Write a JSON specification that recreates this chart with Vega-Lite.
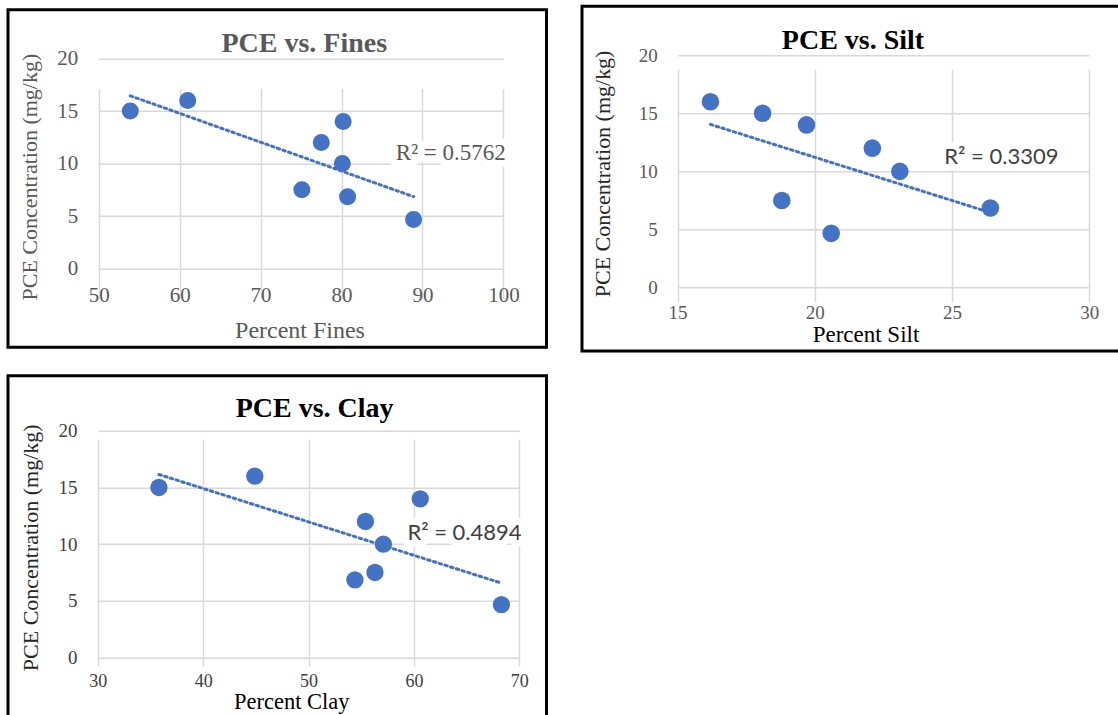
{
  "$schema": "https://vega.github.io/schema/vega-lite/v6.json",
  "background": "white",
  "padding": {"left": 6, "top": 3.8, "right": 0, "bottom": 0},
  "datasets": {
    "soil": [
      {"pce": 16, "fines": 61.0, "silt": 16.2, "clay": 44.9},
      {"pce": 15, "fines": 53.9, "silt": 18.1, "clay": 35.8},
      {"pce": 14, "fines": 80.2, "silt": 19.7, "clay": 60.6},
      {"pce": 12, "fines": 77.5, "silt": 22.1, "clay": 55.4},
      {"pce": 10, "fines": 80.1, "silt": 23.1, "clay": 57.1},
      {"pce": 7.5, "fines": 75.1, "silt": 18.8, "clay": 56.3},
      {"pce": 6.85, "fines": 80.75, "silt": 26.4, "clay": 54.4},
      {"pce": 4.67, "fines": 88.9, "silt": 20.6, "clay": 68.3}
    ],
    "r2fines": [{"x": 93.5, "y": 11.0, "label": "R² = 0.5762"}],
    "r2silt": [{"x": 26.8, "y": 11.25, "label": "R² = 0.3309"}],
    "r2clay": [{"x": 64.8, "y": 11.0, "label": "R² = 0.4894"}]
  },
  "config": {
    "view": {"stroke": null},
    "axis": {
      "domain": false, "ticks": false, "tickSize": 0, "grid": true,
      "gridColor": "#d9d9d9", "gridWidth": 1.5,
      "labelFont": "Liberation Serif", "titleFont": "Liberation Serif",
      "titleFontWeight": "normal", "labelFlush": false, "labelOverlap": false, "labelBound": false,
      "titleBaseline": "middle"
    }
  },
  "spacing": 21,
  "vconcat": [
    {
      "hconcat": [
        {
          "width": 538.5, "height": 337.5,
          "view": {"stroke": "#000000", "strokeWidth": 3},
          "title": {"text": "PCE vs. Fines", "color": "#595959", "font": "Liberation Serif", "fontSize": 28, "fontWeight": "bold", "anchor": "middle", "frame": "group", "dx": 27, "dy": 28, "offset": -34.3, "baseline": "middle"},
          "data": {"name": "soil"},
          "layer": [
            {
              "transform": [{"regression": "pce", "on": "fines"}],
              "mark": {"type": "line", "color": "#4472C4", "strokeDash": [2.5, 3.5], "strokeWidth": 3, "strokeCap": "round"},
              "encoding": {
                "x": {"field": "fines", "type": "quantitative"},
                "y": {"field": "pce", "type": "quantitative"}
              }
            },
            {
              "mark": {"type": "point", "filled": true, "size": 290, "color": "#4472C4", "opacity": 1},
              "encoding": {
                "x": {"field": "fines", "type": "quantitative",
                  "scale": {"domain": [50, 100], "range": [90.7, 495.4], "nice": false, "zero": false},
                  "axis": {"orient": "bottom", "offset": -78.7, "values": [50, 60, 70, 80, 90, 100], "labelFontSize": 21, "labelColor": "#595959", "labelPadding": 16.2,
                    "title": "Percent Fines", "titleFontSize": 24, "titleColor": "#595959", "titleX": 291.5, "titleY": 62.4}},
                "y": {"field": "pce", "type": "quantitative",
                  "scale": {"domain": [0, 20], "range": [258.8, 48.8], "nice": false, "zero": false},
                  "axis": {"orient": "left", "offset": -90.7, "values": [0, 5, 10, 15, 20], "labelFontSize": 21, "labelColor": "#595959", "labelPadding": 21,
                    "title": "PCE Concentration (mg/kg)", "titleFontSize": 22, "titleColor": "#595959", "titleX": -69.6, "titleY": 166.8, "titleAngle": 270}}
              }
            },
            {
              "data": {"name": "r2fines"},
              "mark": {"type": "text", "font": "Liberation Serif", "fontSize": 23, "align": "center", "baseline": "middle", "stroke": "white", "strokeWidth": 14, "strokeJoin": "round", "color": "white"},
              "encoding": {"x": {"field": "x", "type": "quantitative"}, "y": {"field": "y", "type": "quantitative"}, "text": {"field": "label"}}
            },
            {
              "data": {"name": "r2fines"},
              "mark": {"type": "text", "font": "Liberation Serif", "fontSize": 23, "align": "center", "baseline": "middle", "color": "#595959"},
              "encoding": {"x": {"field": "x", "type": "quantitative"}, "y": {"field": "y", "type": "quantitative"}, "text": {"field": "label"}}
            }
          ]
        },
        {
          "width": 545, "height": 344.7,
          "view": {"stroke": "#000000", "strokeWidth": 3},
          "title": {"text": "PCE vs. Silt", "color": "#000000", "font": "Liberation Serif", "fontSize": 28, "fontWeight": "bold", "anchor": "middle", "frame": "group", "dx": -1.5, "dy": 27, "offset": -36.2, "baseline": "middle"},
          "data": {"name": "soil"},
          "layer": [
            {
              "transform": [{"regression": "pce", "on": "silt"}],
              "mark": {"type": "line", "color": "#4472C4", "strokeDash": [2.5, 3.5], "strokeWidth": 3, "strokeCap": "round"},
              "encoding": {
                "x": {"field": "silt", "type": "quantitative"},
                "y": {"field": "pce", "type": "quantitative"}
              }
            },
            {
              "mark": {"type": "point", "filled": true, "size": 310, "color": "#4472C4", "opacity": 1},
              "encoding": {
                "x": {"field": "silt", "type": "quantitative",
                  "scale": {"domain": [15, 30], "range": [95.5, 507.2], "nice": false, "zero": false},
                  "axis": {"orient": "bottom", "offset": -63.3, "values": [15, 20, 25, 30], "labelFontSize": 19, "labelColor": "#595959", "labelPadding": 16.4,
                    "title": "Percent Silt", "titleFontSize": 23, "titleColor": "#000000", "titleX": 283.5, "titleY": 46.5}},
                "y": {"field": "pce", "type": "quantitative",
                  "scale": {"domain": [0, 20], "range": [281.4, 49], "nice": false, "zero": false},
                  "axis": {"orient": "left", "offset": -95.5, "values": [0, 5, 10, 15, 20], "labelFontSize": 19, "labelColor": "#595959", "labelPadding": 20.3,
                    "title": "PCE Concentration (mg/kg)", "titleFontSize": 22, "titleColor": "#262626", "titleX": -74.5, "titleY": 167.2, "titleAngle": 270}}
              }
            },
            {
              "data": {"name": "r2silt"},
              "mark": {"type": "text", "font": "Lato", "fontSize": 22, "align": "center", "baseline": "middle", "stroke": "white", "strokeWidth": 14, "strokeJoin": "round", "color": "white"},
              "encoding": {"x": {"field": "x", "type": "quantitative"}, "y": {"field": "y", "type": "quantitative"}, "text": {"field": "label"}}
            },
            {
              "data": {"name": "r2silt"},
              "mark": {"type": "text", "font": "Lato", "fontSize": 22, "align": "center", "baseline": "middle", "color": "#404040"},
              "encoding": {"x": {"field": "x", "type": "quantitative"}, "y": {"field": "y", "type": "quantitative"}, "text": {"field": "label"}}
            }
          ]
        }
      ],
      "spacing": 32,
      "center": true
    },
    {
      "width": 538.5, "height": 345,
      "view": {"stroke": "#000000", "strokeWidth": 3},
      "title": {"text": "PCE vs. Clay", "color": "#000000", "font": "Liberation Serif", "fontSize": 28, "fontWeight": "bold", "anchor": "middle", "frame": "group", "dx": 37.4, "dy": 25.5, "offset": -35.8, "baseline": "middle"},
      "data": {"name": "soil"},
      "layer": [
        {
          "transform": [{"regression": "pce", "on": "clay"}],
          "mark": {"type": "line", "color": "#4472C4", "strokeDash": [2.5, 3.5], "strokeWidth": 3, "strokeCap": "round"},
          "encoding": {
            "x": {"field": "clay", "type": "quantitative"},
            "y": {"field": "pce", "type": "quantitative"}
          }
        },
        {
          "mark": {"type": "point", "filled": true, "size": 300, "color": "#4472C4", "opacity": 1},
          "encoding": {
            "x": {"field": "clay", "type": "quantitative",
              "scale": {"domain": [30, 70], "range": [89.8, 511.3], "nice": false, "zero": false},
              "axis": {"orient": "bottom", "offset": -63.3, "values": [30, 40, 50, 60, 70], "labelFontSize": 18, "labelColor": "#404040", "labelPadding": 15,
                "title": "Percent Clay", "titleFontSize": 22.5, "titleColor": "#000000", "titleX": 283.3, "titleY": 44}},
            "y": {"field": "pce", "type": "quantitative",
              "scale": {"domain": [0, 20], "range": [281.7, 55], "nice": false, "zero": false},
              "axis": {"orient": "left", "offset": -89.8, "values": [0, 5, 10, 15, 20], "labelFontSize": 19, "labelColor": "#404040", "labelPadding": 20.7,
                "title": "PCE Concentration (mg/kg)", "titleFontSize": 22, "titleColor": "#262626", "titleX": -67.1, "titleY": 171.5, "titleAngle": 270}}
          }
        },
        {
          "data": {"name": "r2clay"},
          "mark": {"type": "text", "font": "Lato", "fontSize": 22, "align": "center", "baseline": "middle", "stroke": "white", "strokeWidth": 14, "strokeJoin": "round", "color": "white"},
          "encoding": {"x": {"field": "x", "type": "quantitative"}, "y": {"field": "y", "type": "quantitative"}, "text": {"field": "label"}}
        },
        {
          "data": {"name": "r2clay"},
          "mark": {"type": "text", "font": "Lato", "fontSize": 22, "align": "center", "baseline": "middle", "color": "#404040"},
          "encoding": {"x": {"field": "x", "type": "quantitative"}, "y": {"field": "y", "type": "quantitative"}, "text": {"field": "label"}}
        }
      ]
    }
  ]
}
